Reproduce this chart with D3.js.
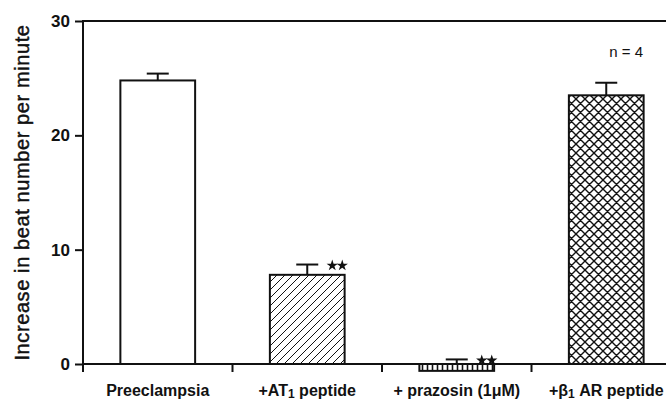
<!DOCTYPE html>
<html>
<head>
<meta charset="utf-8">
<script src="https://cdn.jsdelivr.net/npm/d3@7"></script>
<style>
  body { margin: 0; background: #fff; }
  svg { display: block; font-family: "Liberation Sans", Arial, sans-serif; }
</style>
</head>
<body>
<svg width="666" height="403"></svg>
<script>
// data
var categories = ["Preeclampsia", "+AT1 peptide", "+ prazosin (1μM)", "+β1 AR peptide"];
var means = [24.8, 7.8, -0.6, 23.5];
var sems = [0.6, 0.9, 1.0, 1.1];
var marks = ["", "**", "**", ""];
var yTicks = [0, 10, 20, 30];
var note = "n = 4";

var svg = d3.select("svg");
var width = +svg.attr("width");

// scales
var x = d3.scaleBand()
  .domain(categories)
  .range([83, 681])
  .paddingInner(0.5)
  .paddingOuter(0.25);

var y = d3.scaleLinear()
  .domain([0, 30])
  .range([364, 21]);

// fill patterns
var defs = svg.append("defs");

var hatch = defs.append("pattern")
  .attr("id", "hatch")
  .attr("patternUnits", "userSpaceOnUse")
  .attr("width", 8).attr("height", 8);
hatch.append("rect").attr("width", 8).attr("height", 8).attr("fill", "#fff");
hatch.append("path")
  .attr("d", "M0,8L8,0M-2,2L2,-2M6,10L10,6")
  .attr("stroke", "#111").attr("stroke-width", 1);

var cross = defs.append("pattern")
  .attr("id", "cross")
  .attr("patternUnits", "userSpaceOnUse")
  .attr("width", 9).attr("height", 9);
cross.append("rect").attr("width", 9).attr("height", 9).attr("fill", "#fff");
cross.append("path")
  .attr("d", "M0,9L9,0M-2,2L2,-2M7,11L11,7M0,0L9,9M-2,7L2,11M7,-2L11,2")
  .attr("stroke", "#111").attr("stroke-width", 1.4);

var ladder = defs.append("pattern")
  .attr("id", "ladder")
  .attr("patternUnits", "userSpaceOnUse")
  .attr("width", 5).attr("height", 10);
ladder.append("rect").attr("width", 5).attr("height", 10).attr("fill", "#fff");
ladder.append("line")
  .attr("x1", 2.5).attr("x2", 2.5).attr("y1", 0).attr("y2", 10)
  .attr("stroke", "#111").attr("stroke-width", 1.6);

var fills = ["#fff", "url(#hatch)", "url(#ladder)", "url(#cross)"];

// y axis
var yAxis = svg.append("g")
  .attr("transform", "translate(83,0)")
  .call(d3.axisLeft(y).tickValues(yTicks).tickSize(8).tickPadding(5));
yAxis.select(".domain").remove();
yAxis.selectAll(".tick line").attr("stroke", "#111").attr("stroke-width", 2);
yAxis.selectAll(".tick text")
  .attr("fill", "#111")
  .attr("font-size", "17px")
  .attr("font-weight", "bold")
  .attr("font-family", "Liberation Sans, Arial, sans-serif");

// frame lines: left axis, top line
svg.append("line")
  .attr("x1", 83).attr("x2", 83)
  .attr("y1", y(30)).attr("y2", y(0) + 8)
  .attr("stroke", "#111").attr("stroke-width", 2);
svg.append("line")
  .attr("x1", 82).attr("x2", width)
  .attr("y1", y(30)).attr("y2", y(30))
  .attr("stroke", "#111").attr("stroke-width", 2);

// error bars (drawn first so bars sit on top)
var errG = svg.append("g");
categories.forEach(function (c, i) {
  var cx = x(c) + x.bandwidth() / 2;
  var top = means[i] + sems[i];
  var base = Math.max(means[i], 0);
  errG.append("line")
    .attr("x1", cx).attr("x2", cx)
    .attr("y1", y(base)).attr("y2", y(top))
    .attr("stroke", "#111").attr("stroke-width", 2);
  errG.append("line")
    .attr("x1", cx - 11).attr("x2", cx + 11)
    .attr("y1", y(top)).attr("y2", y(top))
    .attr("stroke", "#111").attr("stroke-width", 2);
});

// bars
svg.append("g")
  .selectAll("rect")
  .data(categories)
  .enter()
  .append("rect")
    .attr("x", function (d) { return x(d); })
    .attr("width", x.bandwidth())
    .attr("y", function (d, i) { return y(Math.max(means[i], 0)); })
    .attr("height", function (d, i) { return Math.abs(y(means[i]) - y(0)); })
    .attr("fill", function (d, i) { return fills[i]; })
    .attr("stroke", "#111")
    .attr("stroke-width", 2);

// x axis line and ticks between groups
svg.append("line")
  .attr("x1", 82).attr("x2", width)
  .attr("y1", y(0)).attr("y2", y(0))
  .attr("stroke", "#111").attr("stroke-width", 2);
svg.append("g")
  .selectAll("line")
  .data(categories.slice(1))
  .enter()
  .append("line")
    .attr("x1", function (d) { return x(d) - x.step() * 0.25; })
    .attr("x2", function (d) { return x(d) - x.step() * 0.25; })
    .attr("y1", y(0)).attr("y2", y(0) + 8)
    .attr("stroke", "#111").attr("stroke-width", 2);

// category labels, with subscripts
var labelG = svg.append("g")
  .attr("font-size", "16px")
  .attr("font-weight", "bold")
  .attr("fill", "#111");
categories.forEach(function (c) {
  var t = labelG.append("text")
    .attr("x", x(c) + x.bandwidth() / 2)
    .attr("y", 396)
    .attr("text-anchor", "middle");
  var m = c.match(/^(.*?(?:AT|β))1(.*)$/);
  if (m) {
    t.append("tspan").text(m[1]);
    t.append("tspan").attr("font-size", "12px").attr("dy", 2).text("1");
    t.append("tspan").attr("dy", -2).text(m[2]);
  } else {
    t.text(c);
  }
});

// significance stars
var star = d3.symbol().type(d3.symbolStar).size(40);
categories.forEach(function (c, i) {
  if (!marks[i]) return;
  var cx = x(c) + x.bandwidth() / 2 + 30;
  var cy = y(means[i] + sems[i]) + 1;
  marks[i].split("").forEach(function (s, k) {
    svg.append("path")
      .attr("d", star)
      .attr("transform", "translate(" + (cx - 5 + k * 10) + "," + cy + ")")
      .attr("fill", "#111");
  });
});

// n label
svg.append("text")
  .attr("x", x(categories[3]) + x.bandwidth() / 2 + 20)
  .attr("y", 57)
  .attr("text-anchor", "middle")
  .attr("font-size", "15px")
  .attr("fill", "#111")
  .text(note);

// y axis title
svg.append("text")
  .attr("transform", "translate(29," + (y(15)) + ") rotate(-90)")
  .attr("text-anchor", "middle")
  .attr("font-size", "20px")
  .attr("letter-spacing", "0.6px")
  .attr("fill", "#111")
  .attr("stroke", "#111")
  .attr("stroke-width", 0.45)
  .text("Increase in beat number per minute");
</script>
</body>
</html>
